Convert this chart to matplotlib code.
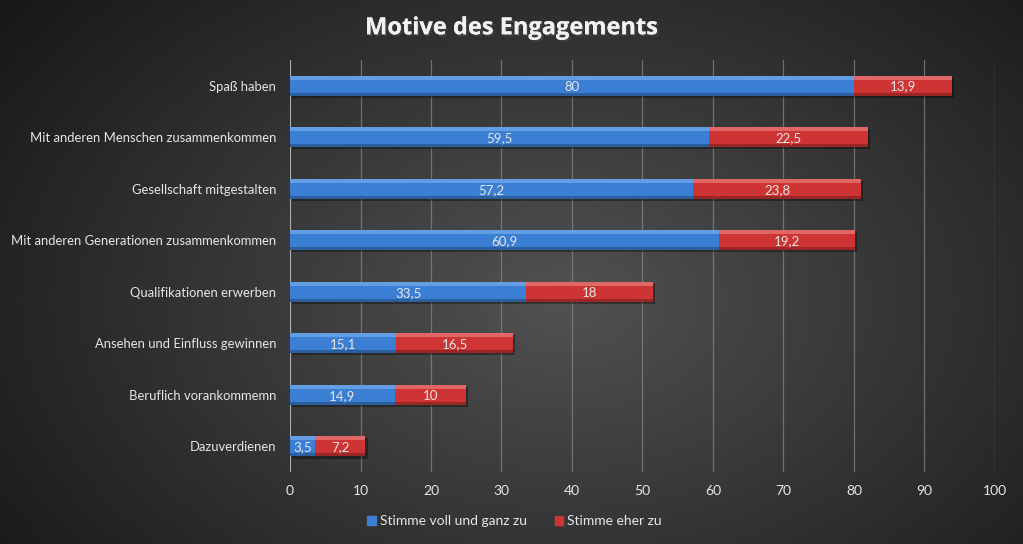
import numpy as np
import matplotlib.pyplot as plt
import matplotlib.patheffects as pe

categories = ["Spaß haben", "Mit anderen Menschen zusammenkommen",
              "Gesellschaft mitgestalten", "Mit anderen Generationen zusammenkommen",
              "Qualifikationen erwerben", "Ansehen und Einfluss gewinnen",
              "Beruflich vorankommemn", "Dazuverdienen"]
voll = [80, 59.5, 57.2, 60.9, 33.5, 15.1, 14.9, 3.5]
eher = [13.9, 22.5, 23.8, 19.2, 18, 16.5, 10, 7.2]
series_names = ["Stimme voll und ganz zu", "Stimme eher zu"]
xticks = [0, 10, 20, 30, 40, 50, 60, 70, 80, 90, 100]

plt.rcParams['font.family'] = ['Lato', 'DejaVu Sans']
txt = "#e6e6e6"

fig = plt.figure(figsize=(10.23, 5.44), dpi=100)

# radial gradient background
bg = fig.add_axes([0, 0, 1, 1], zorder=-5)
yy, xx = np.mgrid[0:544, 0:1023]
r = np.sqrt(((xx - 560) / 620.0) ** 2 + ((yy - 300) / 420.0) ** 2)
shade = np.clip(0.32 - 0.2 * r, 0.09, 0.32)
bg.imshow(np.dstack([shade, shade, shade]), extent=[0, 1, 0, 1], aspect="auto")
bg.axis("off")

ax = fig.add_axes([0.2835, 0.132, 0.689, 0.758])
ax.set_facecolor("none")
y = np.arange(len(categories))
h = 0.39

blue, red = "#3b7fd4", "#cf3434"
for vals, left, col, lite in [(voll, np.zeros(len(voll)), blue, "#7fb2ee"),
                              (eher, np.array(voll), red, "#ee8a8a")]:
    ax.barh(y + 0.04, vals, left=left + 0.3, height=h, color="black", alpha=0.35, zorder=2)
    ax.barh(y, vals, left=left, height=h, color=col, zorder=3)
    ax.barh(y - h / 2 + 0.04, vals, left=left, height=0.08, color=lite, alpha=0.6, zorder=4)
    ax.barh(y + h / 2 - 0.03, vals, left=left, height=0.06, color="black", alpha=0.25, zorder=4)
    for yi, v, l in zip(y, vals, left):
        ax.text(l + v / 2, yi + 0.02, f"{v:g}".replace(".", ","), ha="center", va="center",
                color=txt, fontsize=9.5, zorder=5)

ax.set_ylim(len(categories) - 0.5, -0.5)
ax.set_xlim(0, 100)
ax.set_xticks(xticks)
ax.set_yticks(y)
ax.set_yticklabels(categories)
ax.tick_params(axis="both", colors=txt, labelsize=9.4, length=0)
ax.tick_params(axis="x", pad=9, labelsize=10)
ax.tick_params(axis="y", pad=10)
ax.grid(axis="x", color="#8a8a8a", linewidth=0.9, alpha=0.7, zorder=0)
ax.set_axisbelow(True)
for s in ax.spines.values():
    s.set_visible(False)
ax.axvline(0, color="#bbbbbb", linewidth=1.2, zorder=1)

fig.text(0.5, 0.948, "Motive des Engagements", ha="center", va="center",
         fontsize=17, fontweight="bold", color="#f2f2f2", family=["Open Sans", "DejaVu Sans"],
         path_effects=[pe.withSimplePatchShadow(offset=(1.5, -1.5), alpha=0.6), pe.Normal()])

handles = [plt.Rectangle((0, 0), 1, 1, color=blue), plt.Rectangle((0, 0), 1, 1, color=red)]
fig.legend(handles, series_names, loc="center", bbox_to_anchor=(0.503, 0.042), ncol=2,
           frameon=False, fontsize=10, labelcolor=txt, handlelength=0.6, handleheight=0.6,
           handletextpad=0.3, columnspacing=2.0)

fig.savefig("out.png", dpi=100)
